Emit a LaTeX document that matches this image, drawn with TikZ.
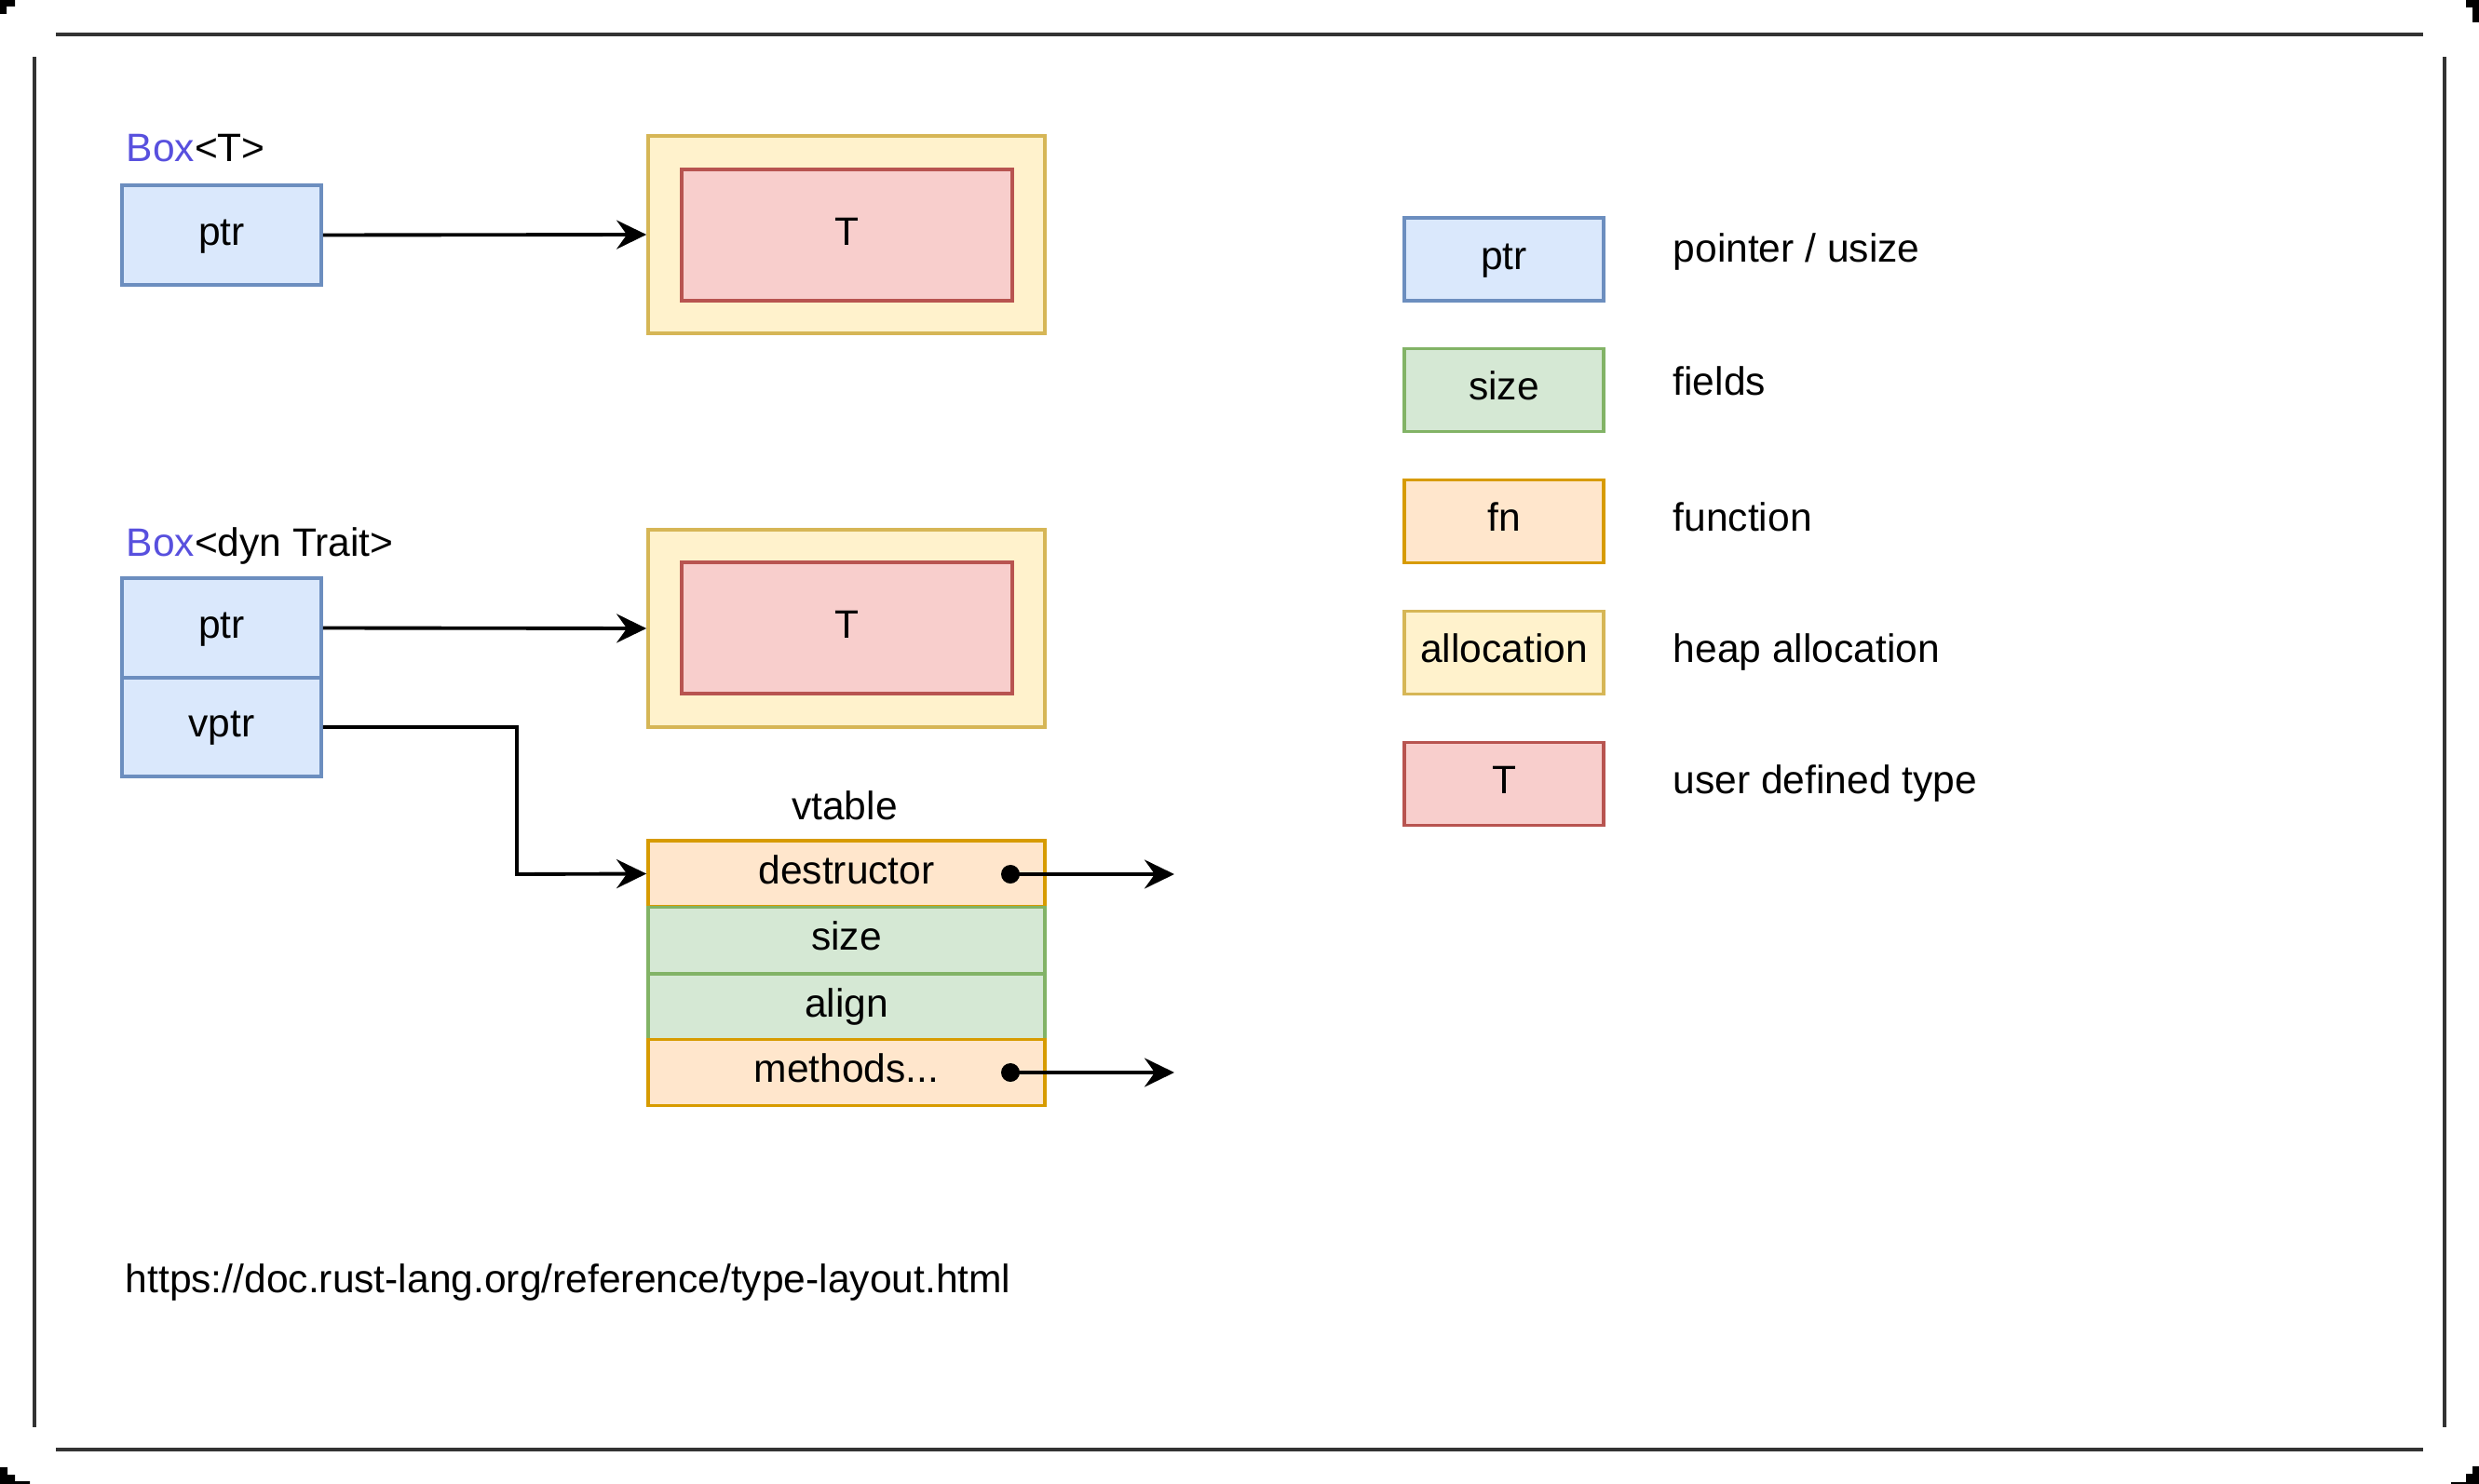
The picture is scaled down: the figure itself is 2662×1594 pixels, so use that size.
\documentclass[tikz,border=0pt]{standalone}
\usepackage{fontspec}
\setmainfont{Liberation Sans}
\usetikzlibrary{arrows.meta}

\definecolor{ptrfill}{HTML}{DAE8FC}\definecolor{ptrline}{HTML}{6C8EBF}
\definecolor{fldfill}{HTML}{D5E8D4}\definecolor{fldline}{HTML}{82B366}
\definecolor{fnfill}{HTML}{FFE6CC}\definecolor{fnline}{HTML}{D79B00}
\definecolor{allocfill}{HTML}{FFF2CC}\definecolor{allocline}{HTML}{D6B656}
\definecolor{tyfill}{HTML}{F8CECC}\definecolor{tyline}{HTML}{B85450}
\definecolor{boxkw}{RGB}{88,80,222}
\definecolor{frameline}{HTML}{333333}

\begin{document}
\begin{tikzpicture}[x=0.01cm, y=-0.01cm,
  every node/.style={font=\fontsize{12.1}{14}\selectfont, text height=8.6pt, text depth=2.5pt, inner sep=0pt},
  cell/.style={draw, line width=1pt, minimum width=2.14cm},
  ptrcell/.style={cell, fill=ptrfill, draw=ptrline},
  fldcell/.style={cell, fill=fldfill, draw=fldline},
  fncell/.style={cell, fill=fnfill, draw=fnline},
  alloccell/.style={cell, fill=allocfill, draw=allocline},
  tycell/.style={cell, fill=tyfill, draw=tyline},
  heapbox/.style={alloccell, minimum width=4.26cm, minimum height=2.12cm},
  tybox/.style={tycell, minimum width=3.55cm, minimum height=1.41cm},
  rowcell/.style={minimum width=4.26cm, minimum height=0.71cm},
  legendbox/.style={minimum height=0.89cm},
  legendtext/.style={anchor=west},
  link/.style={line width=1.1pt, -{Stealth[length=3.2mm, width=3.1mm, inset=1.1mm]}},
  frame/.style={line width=1.1pt, draw=frameline},
  corner/.style={fill=black}
]
\useasboundingbox (0,0) rectangle (2662,1594);

% page frame and corner marks
\draw[frame] (60,37) -- (2602,37);
\draw[frame] (60,1557) -- (2602,1557);
\draw[frame] (37,61) -- (37,1533);
\draw[frame] (2625,61) -- (2625,1533);
\fill[corner] (0,0) -- (16,0) -- (16,7) -- (7,7) -- (7,15) -- (0,15) -- cycle;
\fill[corner] (2648,0) -- (2662,0) -- (2662,24) -- (2655,24) -- (2655,8) -- (2648,8) -- cycle;
\fill[corner] (0,1576) -- (8,1576) -- (8,1584) -- (16,1584) -- (16,1591) -- (32,1591) -- (32,1594) -- (0,1594) -- cycle;
\fill[corner] (2655,1575) -- (2662,1575) -- (2662,1594) -- (2632,1594) -- (2632,1592) -- (2648,1592) -- (2648,1583) -- (2655,1583) -- cycle;

% Box<T>
\node[anchor=west] (boxtlabel) at (135,163) {\textcolor{boxkw}{Box}<T>};
\node[ptrcell, minimum height=1.07cm] (ptra) at (238,252.5) {ptr};
\node[heapbox] (heapa) at (909,252) {};
\node[tybox] (tya) at (909.5,252.5) {T};
\draw[link] (ptra.east) -- (heapa.west);

% Box<dyn Trait>
\node[anchor=west] (boxdynlabel) at (135,587) {\textcolor{boxkw}{Box}<dyn Trait>};
\node[ptrcell, minimum height=1.07cm] (ptrb) at (238,674.5) {ptr};
\node[ptrcell, minimum height=1.06cm] (vptr) at (238,781) {vptr};
\node[heapbox] (heapb) at (909,675) {};
\node[tybox] (tyb) at (909.5,674.5) {T};
\draw[link] (ptrb.east) -- (heapb.west);

% vtable
\node (vtlabel) at (907,870) {vtable};
\node[fncell, rowcell] (dtor) at (909,938.5) {destructor};
\node[fldcell, rowcell] (vsize) at (909,1010) {size};
\node[fldcell, rowcell] (valign) at (909,1081.5) {align};
\node[fncell, rowcell] (methods) at (909,1152) {methods...};
\draw[link] (vptr.east) -- (555,781) -- (555,939) -- (dtor.west);

\coordinate (dtordot) at (1085,939);
\coordinate (dtorend) at (1261,939);
\coordinate (methdot) at (1085,1152);
\coordinate (methend) at (1261,1152);
\fill (dtordot) circle[radius=0.1cm];
\fill (methdot) circle[radius=0.1cm];
\draw[link] (dtordot) -- (dtorend);
\draw[link] (methdot) -- (methend);

% legend
\node[ptrcell, legendbox] (lgptr) at (1615,278.5) {ptr};
\node[fldcell, legendbox] (lgsize) at (1615,419) {size};
\node[fncell, legendbox] (lgfn) at (1615,560) {fn};
\node[alloccell, legendbox] (lgalloc) at (1615,701) {allocation};
\node[tycell, legendbox] (lgty) at (1615,842) {T};
\node[legendtext] (txptr) at (1796,271) {pointer / usize};
\node[legendtext] (txsize) at (1796,414) {fields};
\node[legendtext] (txfn) at (1796,560) {function};
\node[legendtext] (txalloc) at (1796,701) {heap allocation};
\node[legendtext] (txty) at (1796,842) {user defined type};

% reference link
\node[anchor=west] (url) at (134,1378) {https://doc.rust-lang.org/reference/type-layout.html};
\end{tikzpicture}
\end{document}
